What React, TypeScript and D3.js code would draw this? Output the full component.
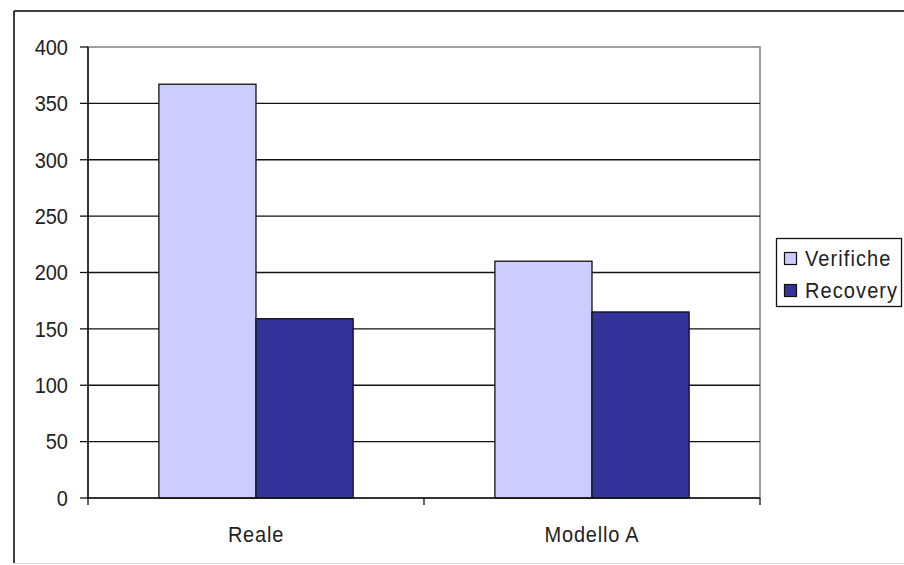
import React from "react";
import * as d3 from "d3";

const categories = ["Reale", "Modello A"];
const seriesNames = ["Verifiche", "Recovery"];
const verifiche = [367, 210];
const recovery = [159, 165];
const yTicks = [0, 50, 100, 150, 200, 250, 300, 350, 400];
const seriesColors = ["#CCCCFF", "#333399"];

const W = 904;
const H = 565;
const FONT = "'Liberation Sans', Arial, sans-serif";

export default function App() {
  const plot = { left: 88, right: 760, top: 47, bottom: 498 };
  const y = d3.scaleLinear().domain([0, 400]).range([plot.bottom, plot.top]);
  const x0 = d3
    .scaleBand<string>()
    .domain(categories)
    .range([plot.left, plot.right])
    .paddingInner(0)
    .paddingOuter(0);
  const x1 = d3
    .scaleBand<string>()
    .domain(seriesNames)
    .range([0, x0.bandwidth()])
    .paddingInner(0)
    .paddingOuter(0.73);
  const values = [verifiche, recovery];

  const catTicks = [plot.left, ...categories.map((c) => (x0(c) as number) + x0.bandwidth())];

  return (
    <svg
      width={W}
      height={H}
      style={{ position: "absolute", left: 0, top: 0, background: "#fff" }}
      fontFamily={FONT}
    >
      {/* outer frame */}
      <line x1={14} y1={11} x2={W} y2={11} stroke="#000" strokeWidth={1.5} />
      <line x1={14} y1={11} x2={14} y2={563} stroke="#000" strokeWidth={1.5} />
      <line x1={14} y1={563.5} x2={W} y2={563.5} stroke="#ddd" strokeWidth={1} />

      {/* plot area border */}
      <rect
        x={plot.left}
        y={plot.top}
        width={plot.right - plot.left}
        height={plot.bottom - plot.top}
        fill="#fff"
        stroke="#808080"
        strokeWidth={1.5}
      />

      {/* gridlines */}
      {yTicks
        .filter((t) => t !== 0 && t !== 400)
        .map((t) => (
          <line
            key={"g" + t}
            x1={plot.left}
            x2={plot.right}
            y1={y(t)}
            y2={y(t)}
            stroke="#111"
            strokeWidth={1.3}
          />
        ))}

      {/* bars */}
      {categories.map((c, ci) =>
        seriesNames.map((s, si) => {
          const bx = (x0(c) as number) + (x1(s) as number);
          const v = values[si][ci];
          return (
            <rect
              key={c + s}
              x={bx}
              y={y(v)}
              width={x1.bandwidth()}
              height={y(0) - y(v)}
              fill={seriesColors[si]}
              stroke="#111"
              strokeWidth={1.3}
            />
          );
        })
      )}

      {/* y axis */}
      <line x1={plot.left} x2={plot.left} y1={plot.top} y2={plot.bottom + 1} stroke="#111" strokeWidth={1.5} />
      {yTicks.map((t) => (
        <g key={"y" + t}>
          <line x1={plot.left - 8} x2={plot.left} y1={y(t)} y2={y(t)} stroke="#111" strokeWidth={1.3} />
          <text
            x={68}
            y={y(t)}
            dy="0.35em"
            textAnchor="end"
            fontSize={20}
            fill="#222"
            transform={`translate(0 ${y(t)}) scale(1 1.12) translate(0 ${-y(t)})`}
          >
            {t}
          </text>
        </g>
      ))}

      {/* x axis */}
      <line x1={plot.left} x2={plot.right} y1={plot.bottom} y2={plot.bottom} stroke="#111" strokeWidth={1.5} />
      {catTicks.map((tx, i) => (
        <line key={"xt" + i} x1={tx} x2={tx} y1={plot.bottom} y2={plot.bottom + 7} stroke="#111" strokeWidth={1.3} />
      ))}
      {categories.map((c) => {
        const cx = (x0(c) as number) + x0.bandwidth() / 2;
        const cy = 534;
        return (
          <text
            key={"xl" + c}
            x={cx}
            y={cy}
            dy="0.35em"
            textAnchor="middle"
            fontSize={20}
            letterSpacing={0.8}
            fill="#222"
            transform={`translate(0 ${cy}) scale(1 1.12) translate(0 ${-cy})`}
          >
            {c}
          </text>
        );
      })}

      {/* legend */}
      <rect x={776.5} y={238.5} width={125} height={68} fill="#fff" stroke="#111" strokeWidth={1.3} />
      {seriesNames.map((s, i) => {
        const rowY = 258.5 + i * 32;
        return (
          <g key={"lg" + s}>
            <rect x={784.5} y={rowY - 6} width={12} height={12} fill={seriesColors[i]} stroke="#111" strokeWidth={1.2} />
            <text
              x={805}
              y={rowY}
              dy="0.35em"
              fontSize={20}
              letterSpacing={1.1}
              fill="#222"
              transform={`translate(0 ${rowY}) scale(1 1.12) translate(0 ${-rowY})`}
            >
              {s}
            </text>
          </g>
        );
      })}
    </svg>
  );
}
